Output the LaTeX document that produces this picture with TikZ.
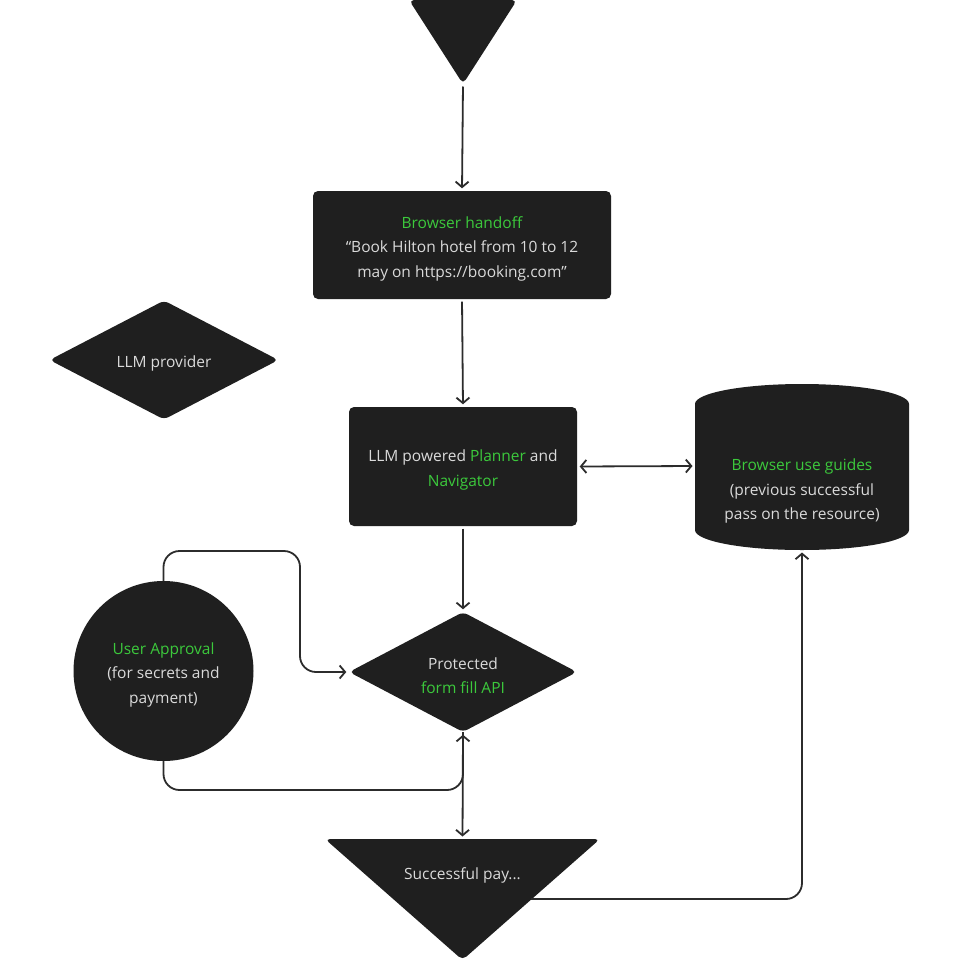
\documentclass[tikz,border=0pt]{standalone}
\usepackage{fontspec}
\setmainfont{Open Sans}
\usetikzlibrary{arrows.meta,shapes.geometric}
\definecolor{shapefill}{HTML}{1F1F1F}
\definecolor{txt}{HTML}{DADADA}
\definecolor{grn}{HTML}{3CC93C}
\definecolor{conncol}{HTML}{2C2C2C}
\begin{document}
\begin{tikzpicture}[x=1pt,y=-1pt,
  every node/.style={font=\fontsize{15.5}{24.5}\selectfont, text=txt, align=center},
  inside/.style={label={[yshift=-3.5pt]center:#1}},
  blockbox/.style={fill=shapefill, rounded corners=5pt, inner sep=0pt},
  decision/.style={diamond, fill=shapefill, rounded corners=5pt, inner sep=0pt},
  connline/.style={draw=conncol, line width=1.8pt, rounded corners=16pt, shorten >=2.5pt},
  tipend/.style={-{Straight Barb[length=5.5pt,width=13pt]}},
  tipboth/.style={{Straight Barb[length=5.5pt,width=13pt]}-{Straight Barb[length=5.5pt,width=13pt]}, shorten <=2.5pt}
]
\useasboundingbox[fill=white] (0,0) rectangle (959,959);

% top triangle
\fill[shapefill, rounded corners=5pt] (409,0) -- (517,0) -- (463,84) -- cycle;
\coordinate (startapex) at (463,84);

% browser handoff
\node[blockbox, minimum width=298pt, minimum height=108pt,
  inside={\textcolor{grn}{Browser handoff}\\“Book Hilton hotel from 10 to 12\\may on https://booking.com”}]
  (handoff) at (462,245) {};

% LLM provider
\node[decision, minimum width=229pt, minimum height=119pt, inside={LLM provider}] (provider) at (164,360) {};

% planner
\node[blockbox, minimum width=228pt, minimum height=119pt,
  inside={LLM powered \textcolor{grn}{Planner} and\\\textcolor{grn}{Navigator}}]
  (planner) at (463,466.5) {};

% cylinder
\fill[shapefill] (695,404) -- (695,530) arc[start angle=180, end angle=360, x radius=107pt, y radius=20pt]
  -- (909,404) arc[start angle=0, end angle=180, x radius=107pt, y radius=20pt] -- cycle;
\node (guides) at (802,491) {\textcolor{grn}{Browser use guides}\\(previous successful\\pass on the resource)};
\coordinate (guidesleft) at (695,466);
\coordinate (guidesbottom) at (802,550);

% user approval
\node[circle, fill=shapefill, minimum size=180pt, inner sep=0pt,
  inside={\textcolor{grn}{User Approval}\\(for secrets and\\payment)}]
  (approval) at (163.5,671) {};

% protected form fill
\node[decision, minimum width=228pt, minimum height=120pt,
  inside={Protected\\\textcolor{grn}{form fill API}}] (formfill) at (463,672) {};

% bottom triangle
\fill[shapefill, rounded corners=5pt] (325,839) -- (600,839) -- (462.5,960) -- cycle;
\node (success) at (462.5,875) {Successful pay...};
\coordinate (successtop) at (462.5,839);
\coordinate (successedge) at (531,899);

% connectors
\draw[connline, tipend, shorten <=2.5pt] (startapex) -- (handoff.north);
\draw[connline, tipend, shorten <=2.5pt] (handoff.south) -- (planner.north);
\draw[connline, tipboth] (planner.east) -- (guidesleft);
\draw[connline, tipend, shorten <=2.5pt] (planner.south) -- (formfill.north);
\draw[connline, tipend] (approval.north) |- (300,551) |- (formfill.west);
\draw[connline, tipend] (approval.south) |- (463,790) -- (formfill.south);
\draw[connline, tipend] (formfill.south) -- (successtop);
\draw[connline, tipend] (successedge) -| (guidesbottom);
\end{tikzpicture}
\end{document}
